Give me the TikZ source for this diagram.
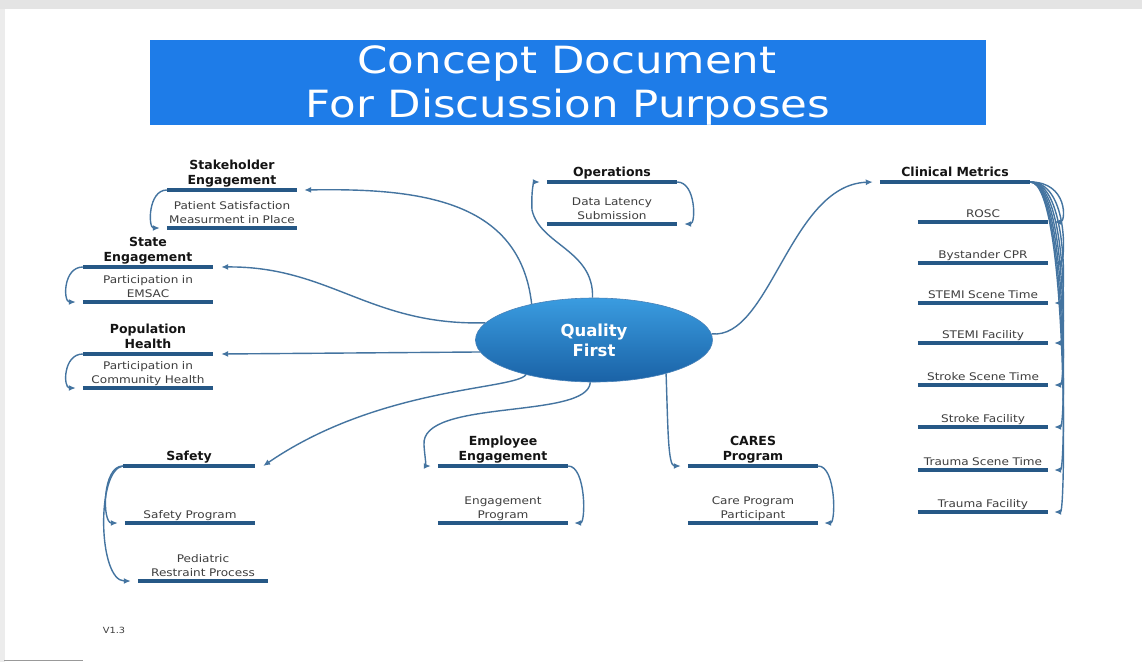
\documentclass[tikz,border=0pt]{standalone}
\usepackage{fontspec}
\setmainfont{DejaVu Sans}
\newfontfamily\titlefont[FakeStretch=1.16]{DejaVu Sans}
\newfontfamily\leafface[FakeStretch=1.15]{DejaVu Sans}
\usepackage{tikz}
\usetikzlibrary{shapes.geometric,arrows.meta,positioning}

\definecolor{bannerblue}{RGB}{30,124,232}
\definecolor{ulblue}{RGB}{38,88,134}
\definecolor{linkblue}{RGB}{68,116,160}
\definecolor{qflight}{RGB}{58,156,224}
\definecolor{qfdark}{RGB}{26,98,166}
\definecolor{topicgray}{RGB}{20,20,20}
\definecolor{leafgray}{RGB}{62,62,62}
\definecolor{framegray}{RGB}{228,228,228}

\newcommand\topicfont{\bfseries\fontsize{12.5}{15.5}\selectfont}
\newcommand\leaffont{\leafface\fontsize{10.5}{14}\selectfont}

\begin{document}
\begin{tikzpicture}[x=1pt,y=-1pt]
  \tikzstyle{topic} = [font=\topicfont, text=topicgray, text width=130pt, align=center,
                       inner xsep=0pt, inner ysep=0.5pt, anchor=south, execute at end node=\strut];
  \tikzstyle{leaf} = [font=\leaffont, text=leafgray, text width=130pt, align=center,
                      inner xsep=0pt, inner ysep=0pt, anchor=south, execute at end node=\strut];
  \tikzstyle{uline} = [draw=ulblue, line width=3.2pt];
  \tikzstyle{link} = [draw=linkblue, line width=1.4pt, -{Latex[length=7pt,width=6pt]}];

  \useasboundingbox (0,0) rectangle (1142,662);
  % page edge
  \fill[white] (0,0) rectangle (1142,662);
  \fill[framegray] (0,0) rectangle (1142,9);
  \fill[framegray!70] (0,9) rectangle (5,662);
  \draw[gray!80, line width=1pt] (4,660.5) -- (83,660.5);

  % heading
  \node[fill=bannerblue, minimum width=836pt, minimum height=85pt, inner sep=0pt] (banner) at (568,82.5) {};
  \node[font=\titlefont\fontsize{37.5}{44}\selectfont, text=white, anchor=base] (head1) at (567,73) {Concept Document};
  \node[font=\titlefont\fontsize{37.5}{44}\selectfont, text=white, anchor=base] (head2) at (568,117) {For Discussion Purposes};

  % centre
  \node[ellipse, minimum width=237pt, minimum height=84pt, inner sep=0pt, top color=qflight,
        bottom color=qfdark, draw=qfdark!80, line width=0.6pt, text=white, align=center,
        font=\bfseries\fontsize{16.5}{20}\selectfont] (qf) at (594,340) {Quality\\First};

  % main topics
  \node[topic] (stake) at (232,190) {Stakeholder\\Engagement};
  \node[topic] (state) at (148,267) {State\\Engagement};
  \node[topic] (popu) at (148,354) {Population\\Health};
  \node[topic] (ops) at (612,182) {Operations};
  \node[topic, text width=150pt] (clin) at (955,182) {Clinical Metrics};
  \node[topic, text width=132pt] (safety) at (189,466) {Safety};
  \node[topic] (emp) at (503,466) {Employee\\Engagement};
  \node[topic] (cares) at (753,466) {CARES\\Program};

  % leaves
  \node[leaf] (stakeL) at (232,228) {Patient Satisfaction\\Measurment in Place};
  \node[leaf] (stateL) at (148,302) {Participation in\\EMSAC};
  \node[leaf] (popuL) at (148,388) {Participation in\\Community Health};
  \node[leaf] (opsL) at (612,224) {Data Latency\\Submission};
  \node[leaf] (safetyA) at (190,523) {Safety Program};
  \node[leaf] (safetyB) at (203,581) {Pediatric\\Restraint Process};
  \node[leaf] (empL) at (503,523) {Engagement\\Program};
  \node[leaf] (caresL) at (753,523) {Care Program\\Participant};

  \foreach \n in {stake,state,popu,ops,clin,safety,emp,cares,
                  stakeL,stateL,popuL,opsL,safetyA,safetyB,empL,caresL}{
    \draw[uline] (\n.south west) -- (\n.south east);
  }

  % clinical metrics list
  \foreach \i/\y/\txt in {1/222/ROSC, 2/263/Bystander CPR, 3/303/STEMI Scene Time,
                          4/343/STEMI Facility, 5/385/Stroke Scene Time, 6/427/Stroke Facility,
                          7/470/Trauma Scene Time, 8/512/Trauma Facility}{
    \node[leaf] (cm\i) at (983,\y) {\txt};
    \draw[uline] (cm\i.south west) -- (cm\i.south east);
    \draw[link] (clin.south east) .. controls (1068,182) and (1066,\y) .. ([xshift=6pt]cm\i.south east);
  }

  % from the centre out
  \draw[link] (qf.150) .. controls (520,200) and (420,188) .. ([xshift=7pt]stake.south east);
  \draw[link] (qf.171) .. controls (370,326) and (330,266) .. ([xshift=8pt]state.south east);
  \draw[link] (qf.186) -- ([xshift=8pt]popu.south east);
  \draw[link] (qf.207) .. controls (515,390) and (380,386) .. ([xshift=8pt]safety.south east);
  \draw[link] (qf.265) .. controls (588,420) and (420,398) .. (424,445)
                       .. controls (425,460) and (427,466) .. ([xshift=-7pt]emp.south west);
  \draw[link] (qf.92) .. controls (594,250) and (540,245) .. (532,210)
                      .. controls (531,190) and (534,182) .. ([xshift=-7pt]ops.south west);
  \draw[link] (qf.3) .. controls (770,340) and (790,185) .. ([xshift=-7pt]clin.south west);
  \draw[link] (qf.335) .. controls (668,430) and (668,466) .. ([xshift=-7pt]cares.south west);

  % topic to leaf
  \draw[link] (stake.south west) .. controls (148,190) and (148,228) .. ([xshift=-7pt]stakeL.south west);
  \draw[link] (state.south west) .. controls (63,267) and (63,302) .. ([xshift=-7pt]stateL.south west);
  \draw[link] (popu.south west) .. controls (63,354) and (63,388) .. ([xshift=-7pt]popuL.south west);
  \draw[link] (ops.south east) .. controls (696,182) and (696,224) .. ([xshift=7pt]opsL.south east);
  \draw[link] (emp.south east) .. controls (586,466) and (586,523) .. ([xshift=6pt]empL.south east);
  \draw[link] (cares.south east) .. controls (836,466) and (836,523) .. ([xshift=6pt]caresL.south east);
  \draw[link] (safety.south west) .. controls (102,466) and (102,523) .. ([xshift=-7pt]safetyA.south west);
  \draw[link] (safety.south west) .. controls (96,470) and (98,581) .. ([xshift=-7pt]safetyB.south west);

  \node[font=\leafface\fontsize{8.5}{10}\selectfont, text=leafgray] (ver) at (114,630) {V1.3};
\end{tikzpicture}
\end{document}
